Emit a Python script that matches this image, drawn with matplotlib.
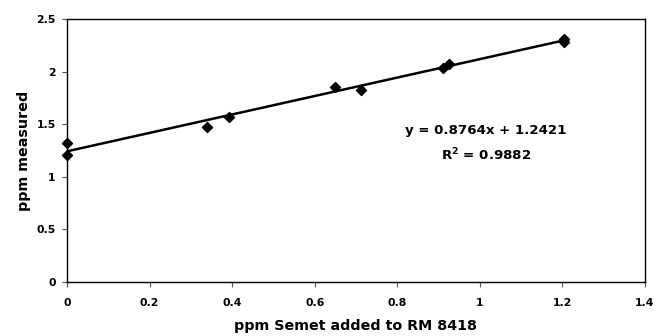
import numpy as np
import matplotlib
matplotlib.use("Agg")
import matplotlib.pyplot as plt

# 读取图中的数据点
semet_added = [0.0, 0.0, 0.338, 0.393, 0.649, 0.712, 0.910, 0.926, 1.203, 1.203]
ppm_measured = [1.32, 1.21, 1.476, 1.565, 1.85, 1.825, 2.03, 2.075, 2.31, 2.285]

# 趋势线
slope = 0.8764
intercept = 1.2421
fit_x = [0.0, 1.203]

x_ticks = [0, 0.2, 0.4, 0.6, 0.8, 1, 1.2, 1.4]
y_ticks = [0, 0.5, 1, 1.5, 2, 2.5]

# 原图文字偏宽，用 DejaVu Sans Bold 更接近
plt.rcParams['font.family'] = ['DejaVu Sans']
plt.rcParams['font.weight'] = 'bold'

fig = plt.figure(figsize=(6.54, 3.36), dpi=100)
ax = fig.add_axes([67 / 654, 1 - 282 / 336, (645 - 67) / 654, (282 - 19) / 336])

fit_y = [slope * v + intercept for v in fit_x]
ax.plot(fit_x, fit_y, color='black', linewidth=1.8, zorder=2)
ax.scatter(semet_added, ppm_measured, marker='D', s=26, color='black', zorder=3, clip_on=False)

ax.set_xlim(0, 1.4)
ax.set_ylim(0, 2.5)
ax.set_xticks(x_ticks)
ax.set_yticks(y_ticks)
ax.set_xticklabels([f'{t:g}' for t in x_ticks], fontsize=7.8, fontweight='bold')
ax.set_yticklabels([f'{t:g}' for t in y_ticks], fontsize=7.8, fontweight='bold')
ax.tick_params(direction='out', length=3.6, width=0.8, color='#555555', pad=4.5)
ax.tick_params(axis='x', pad=8)

for s in ax.spines.values():
    s.set_linewidth(1.0)
    s.set_color('black')

ax.set_xlabel('ppm Semet added to RM 8418', fontsize=10.3, fontweight='bold', labelpad=8)
ax.set_ylabel('ppm measured', fontsize=10.3, fontweight='bold', labelpad=4)

ax.text(1.014, 1.44, f'y = {slope}x + {intercept}', ha='center', va='center',
        fontsize=9.6, fontweight='bold')
ax.text(1.014, 1.21, r'R$^\mathbf{2}$ = 0.9882', ha='center', va='center',
        fontsize=9.6, fontweight='bold')

fig.savefig('out.png', dpi=100)
